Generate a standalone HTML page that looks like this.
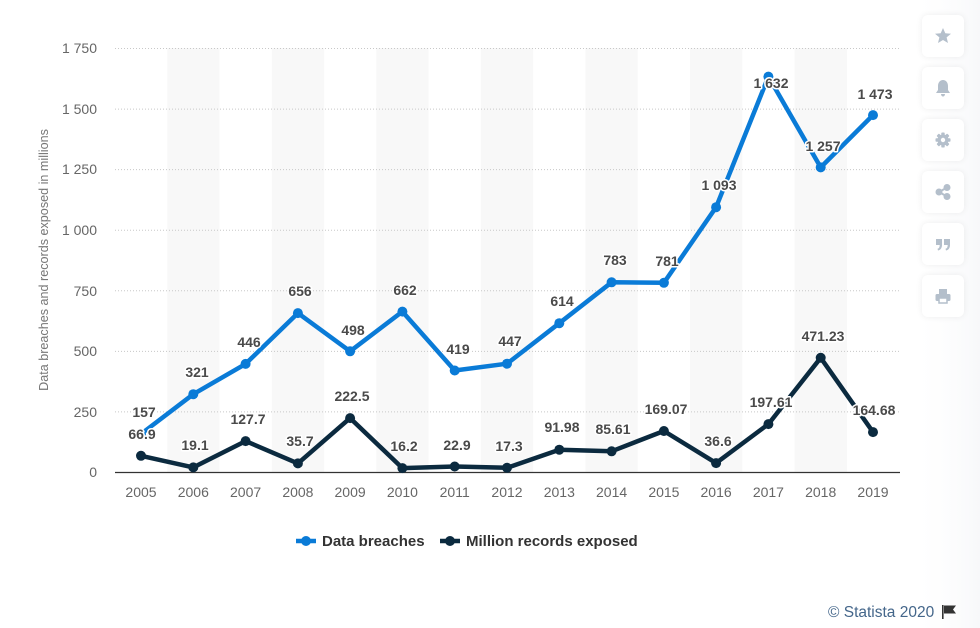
<!DOCTYPE html>
<html><head><meta charset="utf-8"><style>
html,body{margin:0;padding:0;background:#fff;}
body{width:980px;height:628px;overflow:hidden;position:relative;font-family:"Liberation Sans",sans-serif;}
.btn{position:absolute;left:922px;width:42px;height:42px;background:#fff;border-radius:6px;box-shadow:0 0 7px rgba(0,0,0,0.07);}
.btn svg{position:absolute;left:11px;top:11px;}
</style></head><body>
<svg width="980" height="628" viewBox="0 0 980 628" xmlns="http://www.w3.org/2000/svg" style="position:absolute;left:0;top:0;font-family:'Liberation Sans',sans-serif;">
<defs><linearGradient id="sg" x1="0" x2="1" y1="0" y2="0"><stop offset="0" stop-color="#fff" stop-opacity="0"/><stop offset="1" stop-color="#f7f8fa"/></linearGradient></defs>
<rect x="910" y="0" width="70" height="628" fill="url(#sg)"/>
<!-- bands -->
<g fill="#f8f8f8">
<rect x="167.2" y="48" width="52.3" height="424"/>
<rect x="271.8" y="48" width="52.3" height="424"/>
<rect x="376.3" y="48" width="52.3" height="424"/>
<rect x="480.9" y="48" width="52.3" height="424"/>
<rect x="585.4" y="48" width="52.3" height="424"/>
<rect x="690" y="48" width="52.3" height="424"/>
<rect x="794.6" y="48" width="52.3" height="424"/>
</g>
<!-- grid -->
<g stroke="#c8c8c8" stroke-width="1" stroke-dasharray="1,2">
<line x1="115" x2="900" y1="48.5" y2="48.5"/>
<line x1="115" x2="900" y1="109.1" y2="109.1"/>
<line x1="115" x2="900" y1="169.6" y2="169.6"/>
<line x1="115" x2="900" y1="230.2" y2="230.2"/>
<line x1="115" x2="900" y1="290.8" y2="290.8"/>
<line x1="115" x2="900" y1="351.4" y2="351.4"/>
<line x1="115" x2="900" y1="411.9" y2="411.9"/>
</g>
<line x1="115" x2="900" y1="472.5" y2="472.5" stroke="#333" stroke-width="1.2"/>
<!-- y labels -->
<g font-size="14" fill="#666" text-anchor="end">
<text x="97" y="53">1 750</text>
<text x="97" y="114">1 500</text>
<text x="97" y="174">1 250</text>
<text x="97" y="235">1 000</text>
<text x="97" y="296">750</text>
<text x="97" y="356">500</text>
<text x="97" y="417">250</text>
<text x="97" y="477">0</text>
</g>
<text transform="translate(48,260) rotate(-90)" font-size="12.6" fill="#777" text-anchor="middle">Data breaches and records exposed in millions</text>
<!-- x labels -->
<g font-size="14" fill="#666" text-anchor="middle">
<text x="141" y="497">2005</text><text x="193.3" y="497">2006</text><text x="245.6" y="497">2007</text><text x="297.9" y="497">2008</text><text x="350.1" y="497">2009</text><text x="402.4" y="497">2010</text><text x="454.7" y="497">2011</text><text x="507" y="497">2012</text><text x="559.3" y="497">2013</text><text x="611.6" y="497">2014</text><text x="663.9" y="497">2015</text><text x="716.1" y="497">2016</text><text x="768.4" y="497">2017</text><text x="820.7" y="497">2018</text><text x="873" y="497">2019</text>
</g>
<!-- blue series -->
<polyline fill="none" stroke="#0a7bd7" stroke-width="4.5" stroke-linejoin="round" points="141,434 193.3,394.2 245.6,363.9 297.9,313.1 350.1,351.3 402.4,311.6 454.7,370.5 507,363.7 559.3,323.2 611.6,282.3 663.9,282.8 716.1,207.2 768.4,76.6 820.7,167.4 873,115.1"/>
<g fill="#0a7bd7">
<circle cx="141" cy="434" r="5"/><circle cx="193.3" cy="394.2" r="5"/><circle cx="245.6" cy="363.9" r="5"/><circle cx="297.9" cy="313.1" r="5"/><circle cx="350.1" cy="351.3" r="5"/><circle cx="402.4" cy="311.6" r="5"/><circle cx="454.7" cy="370.5" r="5"/><circle cx="507" cy="363.7" r="5"/><circle cx="559.3" cy="323.2" r="5"/><circle cx="611.6" cy="282.3" r="5"/><circle cx="663.9" cy="282.8" r="5"/><circle cx="716.1" cy="207.2" r="5"/><circle cx="768.4" cy="76.6" r="5"/><circle cx="820.7" cy="167.4" r="5"/><circle cx="873" cy="115.1" r="5"/>
</g>
<!-- dark series -->
<polyline fill="none" stroke="#0b2a3f" stroke-width="4.5" stroke-linejoin="round" points="141,455.8 193.3,467.4 245.6,441.1 297.9,463.4 350.1,418.1 402.4,468.1 454.7,466.5 507,467.8 559.3,449.7 611.6,451.3 663.9,431 716.1,463.1 768.4,424.1 820.7,357.8 873,432.1"/>
<g fill="#0b2a3f">
<circle cx="141" cy="455.8" r="5"/><circle cx="193.3" cy="467.4" r="5"/><circle cx="245.6" cy="441.1" r="5"/><circle cx="297.9" cy="463.4" r="5"/><circle cx="350.1" cy="418.1" r="5"/><circle cx="402.4" cy="468.1" r="5"/><circle cx="454.7" cy="466.5" r="5"/><circle cx="507" cy="467.8" r="5"/><circle cx="559.3" cy="449.7" r="5"/><circle cx="611.6" cy="451.3" r="5"/><circle cx="663.9" cy="431" r="5"/><circle cx="716.1" cy="463.1" r="5"/><circle cx="768.4" cy="424.1" r="5"/><circle cx="820.7" cy="357.8" r="5"/><circle cx="873" cy="432.1" r="5"/>
</g>
<!-- labels -->
<g font-size="14" font-weight="bold" fill="#4a4a4a" text-anchor="middle" stroke="#fff" stroke-width="3" stroke-linejoin="round" paint-order="stroke">
<text x="144" y="417">157</text>
<text x="197" y="377">321</text>
<text x="249" y="347">446</text>
<text x="300" y="296">656</text>
<text x="353" y="335">498</text>
<text x="405" y="295">662</text>
<text x="458" y="354">419</text>
<text x="510" y="346">447</text>
<text x="562" y="306">614</text>
<text x="615" y="265">783</text>
<text x="667" y="266">781</text>
<text x="719" y="190">1 093</text>
<text x="771" y="88">1 632</text>
<text x="823" y="151">1 257</text>
<text x="875" y="99">1 473</text>
<text x="142" y="439">66.9</text>
<text x="195" y="450">19.1</text>
<text x="248" y="424">127.7</text>
<text x="300" y="446">35.7</text>
<text x="352" y="401">222.5</text>
<text x="404" y="451">16.2</text>
<text x="457" y="450">22.9</text>
<text x="509" y="451">17.3</text>
<text x="562" y="432">91.98</text>
<text x="613" y="434">85.61</text>
<text x="666" y="414">169.07</text>
<text x="718" y="446">36.6</text>
<text x="771" y="407">197.61</text>
<text x="823" y="341">471.23</text>
<text x="874" y="415">164.68</text>
</g>
<!-- legend -->
<line x1="296" x2="316" y1="541" y2="541" stroke="#0a7bd7" stroke-width="4.5"/>
<circle cx="306" cy="541" r="5" fill="#0a7bd7"/>
<text x="322" y="546" font-size="15" font-weight="bold" fill="#333">Data breaches</text>
<line x1="440" x2="460" y1="541" y2="541" stroke="#0b2a3f" stroke-width="4.5"/>
<circle cx="450" cy="541" r="5" fill="#0b2a3f"/>
<text x="466" y="546" font-size="15" font-weight="bold" fill="#333">Million records exposed</text>
<!-- copyright -->
<text x="828" y="617" font-size="15.5" fill="#44668a">© Statista 2020</text>
<g fill="#333"><rect x="942" y="605" width="1.6" height="14"/><path d="M944 605.5 L956 605.5 L953 609.5 L956 613.5 L944 613.5 Z"/></g>
</svg>
<div class="btn" style="top:15px"><svg width="20" height="20" viewBox="0 0 20 20"><path fill="#b4bfcb" d="M10 2 L12.3 7.3 L18 7.7 L13.6 11.4 L15 17 L10 14 L5 17 L6.4 11.4 L2 7.7 L7.7 7.3 Z"/></svg></div>
<div class="btn" style="top:67px"><svg width="20" height="20" viewBox="0 0 20 20"><path fill="#b4bfcb" d="M10 2 C13 2 15 4.5 15 8 L15 12 L17 15 L3 15 L5 12 L5 8 C5 4.5 7 2 10 2 Z M8 16 L12 16 C12 17.5 11 18.5 10 18.5 C9 18.5 8 17.5 8 16 Z"/></svg></div>
<div class="btn" style="top:119px"><svg width="20" height="20" viewBox="0 0 20 20"><g fill="#b4bfcb"><circle cx="10" cy="10" r="5.5"/><rect x="8.3" y="2.5" width="3.4" height="15" rx="0.8"/><rect x="2.5" y="8.3" width="15" height="3.4" rx="0.8"/><rect x="8.3" y="2.5" width="3.4" height="15" rx="0.8" transform="rotate(45 10 10)"/><rect x="8.3" y="2.5" width="3.4" height="15" rx="0.8" transform="rotate(-45 10 10)"/></g><circle cx="10" cy="10" r="2.2" fill="#fff"/></svg></div>
<div class="btn" style="top:171px"><svg width="20" height="20" viewBox="0 0 20 20"><g fill="#b4bfcb" stroke="#b4bfcb" stroke-width="2"><circle cx="14" cy="5.5" r="2.5"/><circle cx="6" cy="10" r="2.5"/><circle cx="14" cy="14.5" r="2.5"/><line x1="14" y1="5.5" x2="6" y2="10"/><line x1="6" y1="10" x2="14" y2="14.5"/></g></svg></div>
<div class="btn" style="top:223px"><svg width="20" height="20" viewBox="0 0 20 20"><g fill="#b4bfcb"><path d="M3 5 L9 5 L9 11 C9 14 7.5 16 5 16.5 L4.5 14.8 C6 14.3 6.6 13.3 6.7 11 L3 11 Z"/><path d="M11 5 L17 5 L17 11 C17 14 15.5 16 13 16.5 L12.5 14.8 C14 14.3 14.6 13.3 14.7 11 L11 11 Z"/></g></svg></div>
<div class="btn" style="top:275px"><svg width="20" height="20" viewBox="0 0 20 20"><g fill="#b4bfcb"><rect x="6" y="3" width="8" height="5"/><rect x="2.5" y="8" width="15" height="7" rx="1.5"/><rect x="6" y="12" width="8" height="5" fill="#fff" stroke="#b4bfcb" stroke-width="1.5"/></g></svg></div>
</body></html>
